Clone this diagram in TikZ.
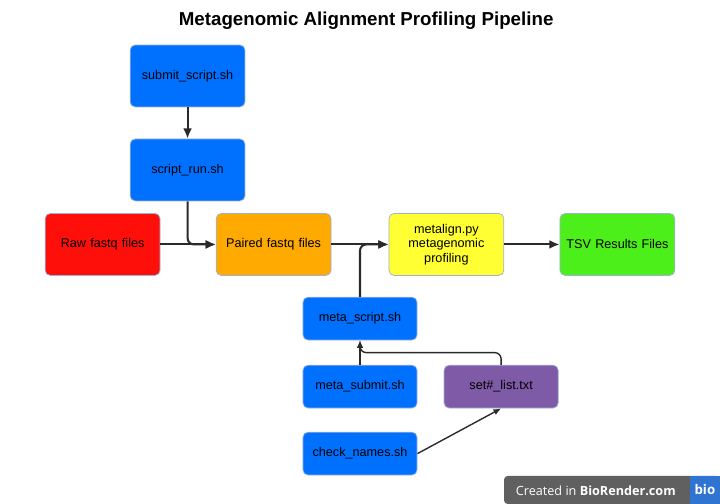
\documentclass[tikz,border=0pt]{standalone}
\usepackage{fontspec}
\setmainfont{Liberation Sans}
\newfontfamily\badgefont{Open Sans}
\usetikzlibrary{shapes.geometric, arrows.meta, positioning, calc}

\definecolor{jobblue}{HTML}{0070FF}
\definecolor{rawred}{HTML}{FF0F0A}
\definecolor{pairorange}{HTML}{FFAA00}
\definecolor{alignyellow}{HTML}{FFFF33}
\definecolor{tsvgreen}{HTML}{4CEF1A}
\definecolor{listpurple}{HTML}{7F5AA6}
\definecolor{edgegray}{HTML}{9DB2DA}
\definecolor{wiregray}{HTML}{2A2A2A}
\definecolor{badgeblue}{HTML}{2F74D0}

\begin{document}
\begin{tikzpicture}[
  bigbox/.style={rectangle, rounded corners=4pt, draw=edgegray, line width=0.6pt,
                 minimum width=3.19cm, minimum height=1.72cm, text width=2.9cm,
                 align=center, font=\fontsize{10}{11.5}\selectfont},
  smallbox/.style={bigbox, minimum width=3.17cm, minimum height=1.19cm},
  arr/.style={draw=wiregray, line width=1.6pt, -{Latex[length=8pt, width=7pt]}},
  thinarr/.style={draw=wiregray, line width=1.1pt, -{Latex[length=6pt, width=5pt]}}
]

%% canvas
\useasboundingbox (0,0) rectangle (20,-14);
\node[font=\bfseries\fontsize{14.8}{17}\selectfont] (title) at (10.17,-0.58) {Metagenomic Alignment Profiling Pipeline};

%% job scripts
\node[bigbox, fill=jobblue]   (submit) at (5.21,-2.11) {submit\_script.sh};
\node[bigbox, fill=jobblue]   (run)    at (5.21,-4.72) {script\_run.sh};

%% data flow
\node[bigbox, fill=rawred]      (raw)      at (2.85,-6.79)  {Raw fastq files};
\node[bigbox, fill=pairorange]  (paired)   at (7.60,-6.79)  {Paired fastq files};
\node[bigbox, fill=alignyellow] (metalign) at (12.40,-6.79) {metalign.py\\metagenomic\\profiling};
\node[bigbox, fill=tsvgreen]    (tsv)      at (17.15,-6.79) {TSV Results Files};

%% profiling scripts
\node[smallbox, fill=jobblue]    (metascript) at (10.0,-8.85)  {meta\_script.sh};
\node[smallbox, fill=jobblue]    (metasubmit) at (10.0,-10.74) {meta\_submit.sh};
\node[smallbox, fill=listpurple] (setlist)    at (13.92,-10.74) {set\#\_list.txt};
\node[smallbox, fill=jobblue]    (checknames) at (10.0,-12.60) {check\_names.sh};

%% main arrows
\draw[arr] (submit) -- (run);
\draw[arr] (raw) -- (paired);
\draw[arr, rounded corners=5pt] (run.south) |- (paired.west);
\draw[arr] (paired) -- (metalign);
\draw[arr, rounded corners=5pt] (metascript.north) |- (metalign.west);
\draw[arr] (metalign) -- (tsv);

%% lower arrows
\coordinate (join) at ($(metascript.south)!0.5!(metasubmit.north)$);
\draw[thinarr] (metasubmit) -- (metascript);
\draw[thinarr, rounded corners=5pt] (setlist.north) |- (join) -- (metascript.south);
\draw[thinarr] (checknames.east) -- (setlist.south);

%% badge
\fill[gray!75!black, rounded corners=3pt] (14,-14) |- (20,-13.22) -- (20,-14) -- cycle;
\fill[badgeblue] (19.17,-13.22) rectangle (20,-14);
\node[font=\badgefont\fontsize{10}{12}\selectfont, text=white] (badge) at (16.55,-13.62) {Created in \textbf{BioRender.com}};
\node[font=\badgefont\bfseries\fontsize{10.5}{12}\selectfont, text=white] (bio) at (19.58,-13.6) {bio};

\end{tikzpicture}
\end{document}
